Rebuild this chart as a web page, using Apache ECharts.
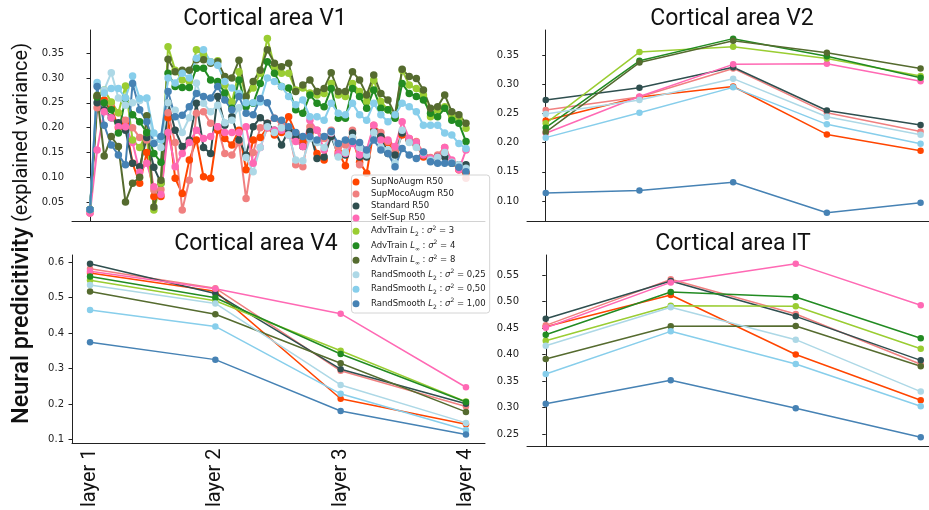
<!DOCTYPE html>
<html><head><meta charset="utf-8">
<script src="https://cdn.jsdelivr.net/npm/echarts@6/dist/echarts.min.js"></script>
<style>html,body{margin:0;padding:0;background:#fff}#c{width:929px;height:510px}</style>
</head><body><div id="c"></div>
<script>
// ---------- data ----------
const seriesNames = ['SupNoAugm R50','SupMocoAugm R50','Standard R50','Self-Sup R50',
  'AdvTrain L2 s2=3','AdvTrain Linf s2=4','AdvTrain Linf s2=8',
  'RandSmooth L2 s2=0,25','RandSmooth L2 s2=0,50','RandSmooth L2 s2=1,00'];
const legendLabels = ['SupNoAugm R50','SupMocoAugm R50','Standard R50','Self-Sup R50',
  '{n|AdvTrain }{i|L}{sub|2}{n| : }{i|σ}{sup|2}{n| = 3}',
  '{n|AdvTrain }{i|L}{sub|∞}{n| : }{i|σ}{sup|2}{n| = 4}',
  '{n|AdvTrain }{i|L}{sub|∞}{n| : }{i|σ}{sup|2}{n| = 8}',
  '{n|RandSmooth }{i|L}{sub|2}{n| : }{i|σ}{sup|2}{n| = 0,25}',
  '{n|RandSmooth }{i|L}{sub|2}{n| : }{i|σ}{sup|2}{n| = 0,50}',
  '{n|RandSmooth }{i|L}{sub|2}{n| : }{i|σ}{sup|2}{n| = 1,00}'];
const seriesColors = ['#FF4500','#F08080','#2F4F4F','#FF69B4','#9ACD32','#228B22','#556B2F','#ADD8E6','#87CEEB','#4682B4'];

const panelTitles = ['Cortical area V1','Cortical area V2','Cortical area V4','Cortical area IT'];
const layerLabels = ['layer 1','layer 2','layer 3','layer 4'];
const v1TickLabels = ['0.05','0.10','0.15','0.20','0.25','0.30','0.35'];
const v2TickLabels = ['0.10','0.15','0.20','0.25','0.30','0.35'];
const v4TickLabels = ['0.1','0.2','0.3','0.4','0.5','0.6'];
const itTickLabels = ['0.25','0.30','0.35','0.40','0.45','0.50','0.55'];

// V1: 54 layers
const v1SupNoAugm = [0.035,0.262,0.256,0.24,0.2,0.21,0.128,0.088,0.15,0.061,0.061,0.22,0.098,0.067,0.135,0.175,0.101,0.098,0.195,0.178,0.165,0.195,0.115,0.175,0.18,0.2,0.185,0.19,0.222,0.189,0.172,0.189,0.148,0.135,0.192,0.151,0.123,0.18,0.13,0.108,0.195,0.18,0.17,0.15,0.185,0.175,0.165,0.141,0.138,0.141,0.15,0.13,0.115,0.108];
const v1SupMoco = [0.028,0.24,0.25,0.249,0.23,0.215,0.2,0.18,0.175,0.074,0.075,0.23,0.17,0.034,0.094,0.229,0.232,0.209,0.202,0.148,0.145,0.17,0.057,0.15,0.2,0.209,0.219,0.205,0.195,0.125,0.121,0.202,0.195,0.178,0.195,0.16,0.165,0.195,0.125,0.15,0.205,0.19,0.172,0.155,0.19,0.178,0.172,0.15,0.14,0.145,0.16,0.13,0.12,0.098];
const v1Standard = [0.035,0.25,0.236,0.22,0.21,0.195,0.128,0.121,0.18,0.12,0.088,0.25,0.195,0.162,0.175,0.249,0.16,0.148,0.263,0.205,0.222,0.175,0.145,0.202,0.22,0.209,0.195,0.165,0.195,0.182,0.162,0.192,0.138,0.141,0.182,0.145,0.145,0.189,0.141,0.141,0.192,0.182,0.148,0.145,0.189,0.175,0.168,0.145,0.135,0.141,0.141,0.128,0.125,0.125];
const v1SelfSup = [0.028,0.155,0.232,0.22,0.202,0.202,0.17,0.11,0.128,0.081,0.065,0.19,0.121,0.148,0.17,0.195,0.178,0.182,0.202,0.19,0.19,0.19,0.202,0.128,0.16,0.2,0.195,0.195,0.185,0.172,0.162,0.215,0.195,0.155,0.189,0.148,0.148,0.168,0.145,0.155,0.205,0.175,0.175,0.162,0.212,0.178,0.17,0.145,0.138,0.141,0.16,0.135,0.115,0.155];
const v1AdvL2_3 = [0.035,0.265,0.276,0.252,0.23,0.284,0.175,0.16,0.19,0.034,0.088,0.363,0.316,0.296,0.293,0.357,0.347,0.333,0.335,0.286,0.252,0.313,0.263,0.28,0.31,0.38,0.323,0.31,0.31,0.276,0.28,0.27,0.266,0.269,0.289,0.266,0.263,0.289,0.273,0.253,0.296,0.253,0.236,0.222,0.316,0.286,0.279,0.266,0.222,0.236,0.242,0.222,0.219,0.199];
const v1AdvLinf_4 = [0.035,0.262,0.25,0.236,0.189,0.259,0.226,0.212,0.19,0.148,0.13,0.31,0.283,0.281,0.281,0.32,0.32,0.296,0.293,0.27,0.239,0.296,0.242,0.249,0.289,0.333,0.31,0.283,0.28,0.236,0.229,0.266,0.249,0.242,0.279,0.219,0.219,0.279,0.263,0.239,0.276,0.239,0.236,0.219,0.289,0.269,0.263,0.256,0.229,0.222,0.239,0.215,0.209,0.172];
const v1AdvLinf_8 = [0.035,0.265,0.143,0.182,0.162,0.05,0.088,0.1,0.224,0.04,0.094,0.338,0.313,0.316,0.316,0.337,0.337,0.33,0.333,0.303,0.3,0.336,0.263,0.293,0.316,0.357,0.33,0.323,0.33,0.273,0.286,0.296,0.273,0.279,0.311,0.273,0.273,0.313,0.296,0.266,0.306,0.269,0.256,0.226,0.318,0.303,0.299,0.276,0.239,0.242,0.266,0.232,0.226,0.209];
const v1RS025 = [0.035,0.285,0.276,0.311,0.26,0.245,0.25,0.255,0.259,0.17,0.16,0.25,0.235,0.19,0.22,0.29,0.249,0.232,0.245,0.21,0.215,0.24,0.14,0.111,0.16,0.202,0.19,0.2,0.185,0.135,0.133,0.178,0.17,0.16,0.19,0.141,0.15,0.18,0.16,0.145,0.19,0.16,0.155,0.128,0.195,0.17,0.16,0.15,0.135,0.14,0.15,0.13,0.125,0.118];
const v1RS050 = [0.035,0.291,0.27,0.279,0.279,0.26,0.304,0.259,0.26,0.189,0.175,0.3,0.29,0.31,0.3,0.34,0.357,0.333,0.326,0.293,0.28,0.269,0.25,0.25,0.252,0.3,0.293,0.283,0.263,0.246,0.256,0.222,0.222,0.215,0.249,0.229,0.226,0.249,0.226,0.215,0.249,0.226,0.212,0.226,0.249,0.242,0.232,0.205,0.205,0.205,0.189,0.185,0.168,0.158];
const v1RS100 = [0.035,0.283,0.205,0.165,0.145,0.125,0.289,0.236,0.212,0.168,0.182,0.273,0.222,0.225,0.242,0.269,0.263,0.26,0.283,0.256,0.236,0.263,0.229,0.226,0.259,0.25,0.219,0.215,0.202,0.19,0.182,0.182,0.175,0.182,0.192,0.168,0.175,0.172,0.17,0.155,0.175,0.155,0.148,0.121,0.158,0.145,0.138,0.151,0.131,0.128,0.128,0.128,0.12,0.111];

// V2: 5 layers
const v2SupNoAugm = [0.238,0.278,0.296,0.214,0.186];
const v2SupMoco   = [0.256,0.278,0.327,0.251,0.219];
const v2Standard  = [0.273,0.294,0.329,0.255,0.230];
const v2SelfSup   = [0.216,0.279,0.334,0.335,0.305];
const v2AdvL2_3   = [0.233,0.355,0.364,0.344,0.314];
const v2AdvLinf_4 = [0.2255,0.340,0.378,0.348,0.311];
const v2AdvLinf_8 = [0.218,0.337,0.3745,0.354,0.327];
const v2RS025     = [0.249,0.273,0.3095,0.2444,0.2136];
const v2RS050     = [0.2085,0.251,0.2946,0.2313,0.198];
const v2RS100     = [0.1137,0.118,0.132,0.080,0.097];

// V4: 4 layers
const v4SupNoAugm = [0.5695,0.518,0.215,0.143];
const v4SupMoco   = [0.5815,0.527,0.294,0.193];
const v4Standard  = [0.596,0.512,0.2985,0.201];
const v4SelfSup   = [0.575,0.525,0.455,0.2475];
const v4AdvL2_3   = [0.549,0.4915,0.3505,0.207];
const v4AdvLinf_4 = [0.560,0.500,0.3413,0.2058];
const v4AdvLinf_8 = [0.5175,0.4535,0.315,0.178];
const v4RS025     = [0.536,0.484,0.254,0.147];
const v4RS050     = [0.4655,0.419,0.229,0.127];
const v4RS100     = [0.3747,0.3254,0.1807,0.114];

// IT: 4 layers
const itSupNoAugm = [0.4525,0.5123,0.400,0.3136];
const itSupMoco   = [0.455,0.5418,0.4764,0.3815];
const itStandard  = [0.4676,0.5387,0.472,0.389];
const itSelfSup   = [0.4506,0.536,0.5714,0.4928];
const itAdvL2_3   = [0.426,0.492,0.491,0.411];
const itAdvLinf_4 = [0.4374,0.518,0.5085,0.4305];
const itAdvLinf_8 = [0.3915,0.4532,0.4538,0.3777];
const itRS025     = [0.4166,0.489,0.428,0.330];
const itRS050     = [0.3632,0.4437,0.382,0.3023];
const itRS100     = [0.3072,0.3513,0.2985,0.2438];

const v1Data = [v1SupNoAugm,v1SupMoco,v1Standard,v1SelfSup,v1AdvL2_3,v1AdvLinf_4,v1AdvLinf_8,v1RS025,v1RS050,v1RS100];
const v2Data = [v2SupNoAugm,v2SupMoco,v2Standard,v2SelfSup,v2AdvL2_3,v2AdvLinf_4,v2AdvLinf_8,v2RS025,v2RS050,v2RS100];
const v4Data = [v4SupNoAugm,v4SupMoco,v4Standard,v4SelfSup,v4AdvL2_3,v4AdvLinf_4,v4AdvLinf_8,v4RS025,v4RS050,v4RS100];
const itData = [itSupNoAugm,itSupMoco,itStandard,itSelfSup,itAdvL2_3,itAdvLinf_4,itAdvLinf_8,itRS025,itRS050,itRS100];

// ---------- chart ----------
const chart = echarts.init(document.getElementById('c'), null, {renderer:'canvas'});
const axisColor = '#222';
const tickFont = 'DejaVu Sans';

function yAxis(grid, min, max, labels){
  const vals = labels.map(Number);
  return {type:'value', gridIndex:grid, min:min, max:max,
    axisLine:{show:true, lineStyle:{color:axisColor, width:1}},
    splitLine:{show:false},
    axisTick:{show:true, length:3.5, lineStyle:{color:axisColor}, customValues:vals},
    axisLabel:{show:true, customValues:vals, fontSize:10, fontFamily:tickFont, color:axisColor, margin:8,
      formatter:function(v){ for (const t of labels){ if (Math.abs(Number(t)-v)<1e-9) return t; } return ''; }}
  };
}
function xAxis(grid, min, max, withLabels){
  const ax = {type:'value', gridIndex:grid, min:min, max:max,
    axisLine:{show:true, onZero:false, lineStyle:{color:axisColor, width:1}},
    splitLine:{show:false}, axisTick:{show:false}, axisLabel:{show:false}};
  if (withLabels){
    ax.axisLabel = {show:true, customValues:[1,2,3,4], rotate:90, fontSize:20, fontFamily:'Roboto', color:'#111', margin:5,
      formatter:function(v){ return layerLabels[Math.round(v)-1] || ''; }};
  }
  return ax;
}

const series = [];
function addPanel(grid, data, xStart, lw, sz){
  data.forEach(function(arr, k){
    series.push({
      type:'line', name:seriesNames[k], xAxisIndex:grid, yAxisIndex:grid,
      data: arr.map(function(v,i){ return [xStart+i, v]; }),
      symbol:'circle', symbolSize:sz, showAllSymbol:true,
      lineStyle:{color:seriesColors[k], width:lw},
      itemStyle:{color:seriesColors[k]},
      emphasis:{disabled:true}, animation:false, z:2
    });
  });
}
addPanel(0, v1Data, 0, 2, 7.5);
addPanel(1, v2Data, 0, 1.5, 6.5);
addPanel(2, v4Data, 1, 1.5, 6.5);
addPanel(3, itData, 0, 1.5, 6.5);

const option = {
  animation:false,
  backgroundColor:'#fff',
  grid:[
    {left:72, top:30, width:413, height:191},
    {left:527, top:30, width:402, height:191},
    {left:72, top:255, width:413, height:191},
    {left:527, top:255, width:402, height:191}
  ],
  xAxis:[
    xAxis(0, -2.54, 55.68, false),
    xAxis(1, -0.2, 4.09, false),
    xAxis(2, 0.856, 4.152, true),
    xAxis(3, -0.15, 3.066, false)
  ],
  yAxis:[
    yAxis(0, 0.0117, 0.397, v1TickLabels),
    yAxis(1, 0.0658, 0.3928, v2TickLabels),
    yAxis(2, 0.0889, 0.6205, v4TickLabels),
    yAxis(3, 0.2274, 0.5877, itTickLabels)
  ],
  legend:{
    data:seriesNames, orient:'vertical', left:351.5, top:175,
    padding:[2,4,3,1], itemGap:2, itemWidth:20, itemHeight:7, icon:'circle',
    backgroundColor:'rgba(255,255,255,0.8)', borderColor:'#d4d4d4', borderWidth:1, borderRadius:3,
    selectedMode:false,
    formatter:function(name){ return legendLabels[seriesNames.indexOf(name)]; },
    textStyle:{fontSize:8.5, fontFamily:tickFont, color:'#222', lineHeight:10,
      rich:{
        n:{fontSize:8.5, fontFamily:tickFont, lineHeight:12.5, color:'#222'},
        i:{fontSize:8.5, fontFamily:tickFont, fontStyle:'italic', lineHeight:12.5, color:'#222'},
        sub:{fontSize:6, fontFamily:tickFont, lineHeight:8, verticalAlign:'bottom', color:'#222'},
        sup:{fontSize:6, fontFamily:tickFont, lineHeight:7, verticalAlign:'top', color:'#222'}
      }}
  },
  graphic:[
    {type:'text', x:265, y:19, style:{text:panelTitles[0], fontSize:23, fontFamily:'Roboto', fill:'#111', align:'center', verticalAlign:'middle'}},
    {type:'text', x:732, y:19, style:{text:panelTitles[1], fontSize:23, fontFamily:'Roboto', fill:'#111', align:'center', verticalAlign:'middle'}},
    {type:'text', x:256, y:244, style:{text:panelTitles[2], fontSize:23, fontFamily:'Roboto', fill:'#111', align:'center', verticalAlign:'middle'}},
    {type:'text', x:733, y:244, style:{text:panelTitles[3], fontSize:23, fontFamily:'Roboto', fill:'#111', align:'center', verticalAlign:'middle'}},
    {type:'text', x:22, y:424, rotation:Math.PI/2, style:{text:'Neural predicitivity', fontSize:23.5, fontWeight:500, fontFamily:'Roboto', fill:'#111', align:'left', verticalAlign:'middle'}},
    {type:'text', x:22, y:222, rotation:Math.PI/2, style:{text:'(explained variance)', fontSize:20, fontFamily:'Roboto', fill:'#111', align:'left', verticalAlign:'middle'}}
  ],
  series:series
};
chart.setOption(option);
</script>
</body></html>
